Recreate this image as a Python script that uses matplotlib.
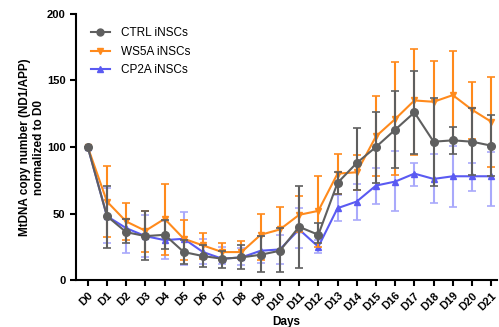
import matplotlib
matplotlib.use("Agg")
import matplotlib.pyplot as plt
from matplotlib.lines import Line2D
import numpy as np

# 日数ラベル
days = ["D%d" % i for i in range(22)]

# CTRL iNSCs
ctrl_mean = [100, 48, 36, 33, 34, 21, 18, 16, 17, 19, 22, 40, 34, 73, 88, 100, 113, 126, 104, 105, 104, 101]
ctrl_low  = [100, 24, 28, 15, 23, 12, 10, 9, 8, 6, 6, 9, 28, 65, 68, 73, 84, 95, 71, 95, 79, 78]
ctrl_high = [100, 71, 46, 52, 45, 30, 26, 22, 26, 33, 39, 71, 43, 81, 114, 126, 142, 157, 137, 115, 129, 124]

# WS5A iNSCs
ws5a_mean = [100, 59, 44, 37, 46, 31, 26, 21, 21, 34, 38, 49, 52, 80, 81, 108, 121, 135, 134, 139, 128, 119]
ws5a_low  = [100, 32, 30, 21, 19, 15, 16, 15, 16, 15, 22, 36, 25, 65, 68, 78, 79, 94, 104, 105, 106, 85]
ws5a_high = [100, 86, 58, 52, 72, 45, 35, 28, 29, 50, 55, 63, 78, 95, 94, 138, 164, 174, 165, 172, 149, 153]

# CP2A iNSCs
cp2a_mean = [100, 48, 39, 33, 30, 31, 21, 16, 17, 22, 23, 38, 25, 54, 59, 71, 74, 80, 76, 78, 78, 78]
cp2a_low  = [100, 28, 20, 17, 16, 11, 12, 12, 11, 13, 12, 24, 20, 44, 45, 57, 52, 71, 58, 55, 67, 56]
cp2a_high = [100, 69, 46, 49, 44, 51, 31, 25, 24, 33, 34, 54, 30, 64, 72, 84, 97, 88, 95, 101, 88, 96]

CTRL_C = "#5f5f5f"
WS5A_C = "#ff8a1c"
CP2A_C = "#5a5af2"


def AsymErr(mean, low, high):
    mean = np.array(mean)
    return [mean - np.array(low), np.array(high) - mean]


def main():
    plt.rcParams['font.family'] = ['Liberation Sans', 'DejaVu Sans']

    fig = plt.figure(figsize=(4.99, 3.27), dpi=100)
    ax = fig.add_axes([0.152, 0.1437, 0.844, 0.8135])

    x = np.arange(len(days))

    # CP2A
    ax.errorbar(x, cp2a_mean, yerr=AsymErr(cp2a_mean, cp2a_low, cp2a_high),
                color=CP2A_C, ecolor="#a9a9fb", elinewidth=1.5, capsize=3, capthick=1.2,
                lw=1.5, marker="^", ms=5, zorder=2)
    # WS5A
    ax.errorbar(x, ws5a_mean, yerr=AsymErr(ws5a_mean, ws5a_low, ws5a_high),
                color=WS5A_C, ecolor=WS5A_C, elinewidth=1.5, capsize=3, capthick=1.2,
                lw=1.5, marker="v", ms=5, zorder=3)
    # CTRL
    ax.errorbar(x, ctrl_mean, yerr=AsymErr(ctrl_mean, ctrl_low, ctrl_high),
                color=CTRL_C, ecolor=CTRL_C, elinewidth=1.5, capsize=3, capthick=1.2,
                lw=1.5, marker="o", ms=5.5, zorder=4)

    ax.set_xlim(-0.62, 21.3)
    ax.set_ylim(0, 200)
    ax.set_yticks([0, 50, 100, 150, 200])
    ax.set_xticks(x)
    ax.set_xticklabels(days, rotation=45, ha="right", rotation_mode="anchor")

    for s in ["top", "right"]:
        ax.spines[s].set_visible(False)
    for s in ["left", "bottom"]:
        ax.spines[s].set_linewidth(1.5)
    ax.tick_params(width=1.5, length=4, labelsize=8)
    for lab in ax.get_xticklabels() + ax.get_yticklabels():
        lab.set_fontweight("bold")

    ax.set_xlabel("Days", fontsize=8.5, fontweight="bold", labelpad=3)
    ax.set_ylabel("MtDNA copy number (ND1/APP)\nnormalized to D0", fontsize=8.5,
                  fontweight="bold", labelpad=1)

    handles = [Line2D([], [], color=CTRL_C, lw=1.5, marker="o", ms=5),
               Line2D([], [], color=WS5A_C, lw=1.5, marker="v", ms=5),
               Line2D([], [], color=CP2A_C, lw=1.5, marker="^", ms=5)]
    labels = ["CTRL iNSCs", "WS5A iNSCs", "CP2A iNSCs"]
    ax.legend(handles, labels, loc="upper left", bbox_to_anchor=(0.01, 0.99),
              frameon=False, fontsize=8.5, handlelength=1.6, handletextpad=1.0,
              labelspacing=0.55)

    fig.savefig("out.png", dpi=100)


if __name__ == "__main__":
    main()
